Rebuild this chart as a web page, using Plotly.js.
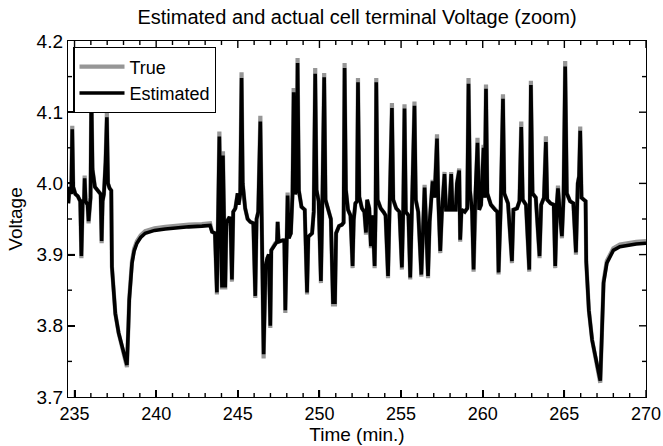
<!DOCTYPE html>
<html>
<head>
<meta charset="utf-8">
<script src="https://cdn.plot.ly/plotly-3.0.1.min.js"></script>
<style>html,body{margin:0;padding:0;background:#fff;}#chart{width:663px;height:446px;}</style>
</head>
<body>
<div id="chart"></div>
<script>
// Time (min.)
const timeMin = [
234.62,234.70,234.80,234.86,234.92,235.05,235.20,235.35,235.42,235.50,
235.58,235.62,235.68,235.80,235.86,235.92,235.98,236.03,236.10,236.25,
236.45,236.60,236.66,236.72,236.80,236.90,236.98,237.05,237.15,237.25,
237.29,237.50,237.70,237.90,238.05,238.21,238.30,238.35,238.52,238.65,
238.82,239.05,239.33,239.90,240.56,241.30,242.00,242.80,243.30,243.42,
243.60,243.72,243.80,243.87,243.95,244.03,244.09,244.15,244.23,244.30,
244.45,244.50,244.56,244.64,244.72,244.85,244.99,245.05,245.15,245.23,
245.30,245.45,245.60,245.76,245.95,246.07,246.15,246.25,246.38,246.45,
246.58,246.70,246.80,246.90,246.99,247.05,247.30,247.40,247.44,247.50,
247.75,247.85,247.91,247.98,248.05,248.12,248.25,248.35,248.42,248.50,
248.60,248.66,248.74,248.90,249.10,249.24,249.32,249.55,249.65,249.74,
249.82,249.95,250.09,250.18,250.29,250.37,250.55,250.70,250.83,250.95,
251.02,251.20,251.38,251.48,251.54,251.62,251.75,251.90,252.03,252.10,
252.20,252.30,252.36,252.44,252.60,252.75,252.85,252.92,253.05,253.15,
253.25,253.38,253.44,253.48,253.56,253.75,253.95,254.05,254.20,254.30,
254.44,254.52,254.70,254.90,255.05,255.13,255.21,255.29,255.45,255.56,
255.66,255.82,255.90,256.05,256.24,256.35,256.44,256.52,256.65,256.75,
256.93,257.05,257.20,257.28,257.40,257.50,257.66,257.75,257.95,258.07,
258.15,258.35,258.42,258.56,258.62,258.70,258.90,259.05,259.13,259.22,
259.35,259.44,259.55,259.68,259.78,259.90,260.05,260.12,260.20,260.28,
260.50,260.75,260.90,260.97,261.10,261.24,261.32,261.55,261.79,261.88,
262.10,262.25,262.36,262.45,262.65,262.85,262.95,263.05,263.25,263.48,
263.58,263.75,263.87,263.95,264.15,264.35,264.44,264.55,264.61,264.72,
264.85,264.95,265.05,265.15,265.35,265.55,265.71,265.82,265.90,265.97,
266.05,266.20,266.30,266.34,266.50,266.70,266.89,267.05,267.20,267.30,
267.40,267.60,268.00,268.40,268.83,269.40,270.00
];

// True terminal voltage
const vTrue = [
3.972,3.995,3.985,4.081,3.995,3.985,3.982,3.975,3.895,3.975,
3.975,4.011,3.975,3.970,3.944,3.975,3.980,4.136,4.020,3.995,
3.988,3.985,3.916,3.975,3.985,4.030,4.099,4.000,3.993,3.990,
3.883,3.817,3.790,3.771,3.756,3.742,3.800,3.838,3.891,3.908,
3.919,3.927,3.933,3.937,3.939,3.941,3.942,3.943,3.944,3.932,
3.930,3.844,3.935,4.073,3.950,3.851,4.045,3.950,3.851,3.945,
3.950,3.953,3.940,3.862,3.960,3.965,3.986,3.970,3.985,4.156,
4.000,3.965,3.950,3.946,3.944,3.839,3.950,3.960,4.095,3.960,
3.754,3.883,3.895,3.900,3.797,3.906,3.916,3.918,3.946,3.918,
3.920,3.920,3.818,3.925,3.987,3.923,3.930,3.985,4.134,3.985,
3.990,4.176,3.990,3.967,3.963,3.844,3.925,3.930,3.960,4.162,
3.991,3.975,3.860,3.975,4.155,3.977,3.960,3.950,3.830,3.830,
3.930,3.940,3.942,3.945,4.169,3.991,3.963,3.955,3.881,3.949,
3.972,3.975,4.148,3.981,3.965,3.960,3.928,3.977,3.965,3.909,
3.955,3.881,3.960,4.148,3.977,3.965,3.959,3.955,3.867,3.960,
4.113,3.977,3.965,3.960,3.879,3.960,4.111,3.960,3.955,3.865,
3.950,4.115,3.977,3.960,3.869,3.950,3.998,3.950,3.867,3.946,
4.005,3.980,4.069,3.977,3.902,3.960,4.016,3.963,3.963,4.016,
3.963,3.963,4.000,4.021,3.918,3.963,3.960,3.965,4.148,3.990,
3.960,3.876,3.986,4.064,3.963,3.970,4.054,3.980,4.139,3.986,
3.970,3.963,3.960,3.872,3.965,4.125,3.986,3.972,3.888,3.963,
3.965,3.975,4.087,3.977,3.970,3.876,4.144,3.986,3.980,3.895,
3.970,3.980,4.066,3.977,3.972,3.970,3.881,3.975,3.997,3.960,
3.923,3.980,4.172,3.986,3.975,3.972,3.900,4.000,4.010,4.080,
3.980,3.977,3.975,3.890,3.822,3.780,3.756,3.738,3.720,3.790,
3.862,3.891,3.909,3.914,3.916,3.918,3.919
];

// Estimated terminal voltage
const vEst = [
3.972,3.995,3.985,4.076,3.995,3.985,3.982,3.975,3.898,3.975,
3.975,4.007,3.975,3.970,3.947,3.975,3.980,4.130,4.020,3.995,
3.988,3.985,3.919,3.975,3.985,4.030,4.093,4.000,3.993,3.990,
3.883,3.817,3.790,3.771,3.757,3.745,3.800,3.836,3.888,3.905,
3.916,3.924,3.930,3.934,3.936,3.938,3.939,3.940,3.941,3.932,
3.930,3.847,3.935,4.066,3.950,3.854,4.039,3.950,3.854,3.945,
3.950,3.953,3.940,3.865,3.960,3.965,3.986,3.970,3.985,4.148,
4.000,3.965,3.950,3.946,3.944,3.842,3.950,3.960,4.087,3.960,
3.760,3.883,3.895,3.900,3.800,3.906,3.916,3.918,3.946,3.918,
3.920,3.920,3.822,3.925,3.983,3.923,3.930,3.985,4.128,3.985,
3.990,4.169,3.990,3.967,3.963,3.847,3.925,3.930,3.960,4.154,
3.991,3.975,3.863,3.975,4.149,3.977,3.960,3.950,3.833,3.833,
3.930,3.940,3.942,3.945,4.162,3.991,3.963,3.955,3.884,3.949,
3.972,3.975,4.142,3.981,3.965,3.960,3.931,3.977,3.965,3.912,
3.955,3.884,3.960,4.142,3.977,3.965,3.959,3.955,3.870,3.960,
4.106,3.977,3.965,3.960,3.882,3.960,4.105,3.960,3.955,3.868,
3.950,4.109,3.977,3.960,3.872,3.950,3.994,3.950,3.870,3.946,
4.003,3.980,4.063,3.977,3.905,3.960,4.013,3.963,3.963,4.013,
3.963,3.963,4.000,4.018,3.921,3.963,3.960,3.965,4.140,3.990,
3.960,3.879,3.986,4.057,3.963,3.970,4.050,3.980,4.133,3.986,
3.970,3.963,3.960,3.875,3.965,4.119,3.986,3.972,3.891,3.963,
3.965,3.975,4.079,3.977,3.970,3.879,4.138,3.986,3.980,3.898,
3.970,3.980,4.058,3.977,3.972,3.970,3.884,3.975,3.993,3.960,
3.926,3.980,4.164,3.986,3.975,3.972,3.903,4.000,4.010,4.074,
3.980,3.977,3.975,3.890,3.822,3.780,3.756,3.739,3.723,3.790,
3.860,3.888,3.906,3.911,3.913,3.915,3.916
];

const seriesNames = ["True", "Estimated"];
const chartTitle = "Estimated and actual cell terminal Voltage (zoom)";
const xTitle = "Time (min.)";
const yTitle = "Voltage";

const FONT = "Liberation Sans, Arial, Helvetica, sans-serif";
const X_RANGE = [234.6, 270];
const Y_RANGE = [3.7, 4.2];

// tick-mark geometry, converted from pixels to axis units
const MARGIN = {l: 68, r: 17, t: 41, b: 49};
const plotW = 663 - MARGIN.l - MARGIN.r;
const plotH = 446 - MARGIN.t - MARGIN.b;
const xPerPx = (X_RANGE[1] - X_RANGE[0]) / plotW;
const yPerPx = (Y_RANGE[1] - Y_RANGE[0]) / plotH;
const tickX = [], tickY = [];
for (let i = 0; i <= 35; i++) {
  const v = 235 + i;
  const len = ((i % 5 === 0) ? 7 : 4) * yPerPx;
  tickX.push(v, v, null, v, v, null);
  tickY.push(Y_RANGE[0], Y_RANGE[0] + len, null, Y_RANGE[1], Y_RANGE[1] - len, null);
}
for (let j = 1; j < 10; j++) {
  const v = Y_RANGE[0] + j * 0.05;
  const len = ((j % 2 === 0) ? 7 : 4) * xPerPx;
  tickX.push(X_RANGE[0], X_RANGE[0] + len, null, X_RANGE[1], X_RANGE[1] - len, null);
  tickY.push(v, v, null, v, v, null);
}

const traces = [
  {x: timeMin, y: vTrue, name: seriesNames[0], type: "scatter", mode: "lines",
   line: {color: "#969696", width: 4.2}},
  {x: timeMin, y: vEst, name: seriesNames[1], type: "scatter", mode: "lines",
   line: {color: "#000000", width: 3.6}},
  {x: tickX, y: tickY, type: "scatter", mode: "lines", connectgaps: false,
   line: {color: "#000000", width: 1.4}, showlegend: false, hoverinfo: "skip",
   cliponaxis: false}
];

const layout = {
  width: 663, height: 446,
  margin: MARGIN,
  showlegend: true,
  title: {text: chartTitle, font: {family: FONT, size: 20, color: "#000"},
          x: 0.5, xref: "paper", y: 0.962, yref: "container", yanchor: "middle"},
  xaxis: {
    range: X_RANGE, tickmode: "linear", tick0: 235, dtick: 5,
    ticks: "inside", ticklen: 7, tickwidth: 2, tickcolor: "#000",
    showline: true, linecolor: "#000", linewidth: 1.4, mirror: true,
    showgrid: false, zeroline: false,
    tickfont: {family: FONT, size: 18, color: "#000"},
    title: {text: xTitle, font: {family: FONT, size: 19, color: "#000"}, standoff: 4}
  },
  yaxis: {
    range: Y_RANGE, tickmode: "linear", tick0: 3.7, dtick: 0.1, tickformat: ".1f",
    ticks: "inside", ticklen: 7, tickwidth: 2, tickcolor: "#000",
    showline: true, linecolor: "#000", linewidth: 1.4, mirror: true,
    showgrid: false, zeroline: false,
    tickfont: {family: FONT, size: 19, color: "#000"},
    title: {text: yTitle, font: {family: FONT, size: 19, color: "#000"}, standoff: 8}
  },
  legend: {x: 0.009, y: 0.983, xanchor: "left", yanchor: "top",
           bgcolor: "#fff", bordercolor: "#000", borderwidth: 1.3,
           font: {family: FONT, size: 18, color: "#000"},
           tracegroupgap: 0, itemwidth: 45}
};

Plotly.newPlot("chart", traces, layout, {displayModeBar: false});
</script>
</body>
</html>
